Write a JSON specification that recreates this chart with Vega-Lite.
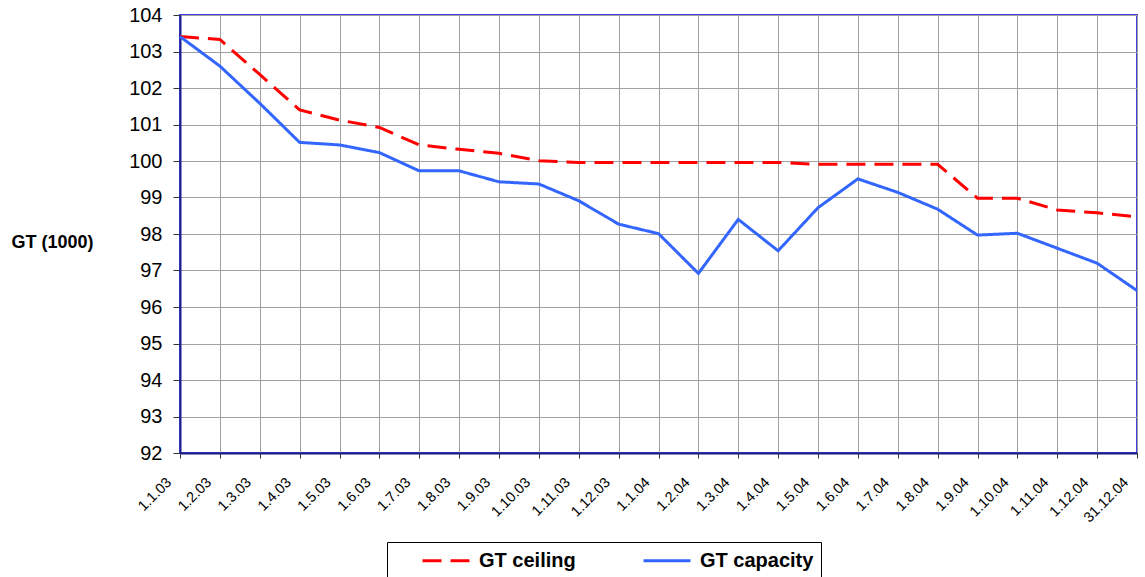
{
  "$schema": "https://vega.github.io/schema/vega-lite/v6.json",
  "width": 957,
  "height": 438,
  "autosize": {"type": "none"},
  "padding": {"left": 180, "top": 15, "right": 8, "bottom": 124},
  "background": "white",
  "config": {
    "font": "Liberation Sans",
    "view": {"stroke": "#4040e0", "strokeWidth": 2}
  },
  "data": {
    "values": [
      {"date": "1.1.03", "series": "GT ceiling", "gt": 103.41},
      {"date": "1.2.03", "series": "GT ceiling", "gt": 103.33},
      {"date": "1.3.03", "series": "GT ceiling", "gt": 102.37},
      {"date": "1.4.03", "series": "GT ceiling", "gt": 101.40},
      {"date": "1.5.03", "series": "GT ceiling", "gt": 101.12},
      {"date": "1.6.03", "series": "GT ceiling", "gt": 100.92},
      {"date": "1.7.03", "series": "GT ceiling", "gt": 100.44},
      {"date": "1.8.03", "series": "GT ceiling", "gt": 100.32},
      {"date": "1.9.03", "series": "GT ceiling", "gt": 100.21},
      {"date": "1.10.03", "series": "GT ceiling", "gt": 100.01},
      {"date": "1.11.03", "series": "GT ceiling", "gt": 99.96},
      {"date": "1.12.03", "series": "GT ceiling", "gt": 99.96},
      {"date": "1.1.04", "series": "GT ceiling", "gt": 99.96},
      {"date": "1.2.04", "series": "GT ceiling", "gt": 99.96},
      {"date": "1.3.04", "series": "GT ceiling", "gt": 99.96},
      {"date": "1.4.04", "series": "GT ceiling", "gt": 99.96},
      {"date": "1.5.04", "series": "GT ceiling", "gt": 99.91},
      {"date": "1.6.04", "series": "GT ceiling", "gt": 99.91},
      {"date": "1.7.04", "series": "GT ceiling", "gt": 99.91},
      {"date": "1.8.04", "series": "GT ceiling", "gt": 99.91},
      {"date": "1.9.04", "series": "GT ceiling", "gt": 98.98},
      {"date": "1.10.04", "series": "GT ceiling", "gt": 98.98},
      {"date": "1.11.04", "series": "GT ceiling", "gt": 98.66},
      {"date": "1.12.04", "series": "GT ceiling", "gt": 98.58},
      {"date": "31.12.04", "series": "GT ceiling", "gt": 98.47},
      {"date": "1.1.03", "series": "GT capacity", "gt": 103.41},
      {"date": "1.2.03", "series": "GT capacity", "gt": 102.60},
      {"date": "1.3.03", "series": "GT capacity", "gt": 101.58},
      {"date": "1.4.03", "series": "GT capacity", "gt": 100.51},
      {"date": "1.5.03", "series": "GT capacity", "gt": 100.44},
      {"date": "1.6.03", "series": "GT capacity", "gt": 100.23},
      {"date": "1.7.03", "series": "GT capacity", "gt": 99.73},
      {"date": "1.8.03", "series": "GT capacity", "gt": 99.73},
      {"date": "1.9.03", "series": "GT capacity", "gt": 99.43},
      {"date": "1.10.03", "series": "GT capacity", "gt": 99.37},
      {"date": "1.11.03", "series": "GT capacity", "gt": 98.91},
      {"date": "1.12.03", "series": "GT capacity", "gt": 98.27},
      {"date": "1.1.04", "series": "GT capacity", "gt": 98.01},
      {"date": "1.2.04", "series": "GT capacity", "gt": 96.92},
      {"date": "1.3.04", "series": "GT capacity", "gt": 98.40},
      {"date": "1.4.04", "series": "GT capacity", "gt": 97.54},
      {"date": "1.5.04", "series": "GT capacity", "gt": 98.72},
      {"date": "1.6.04", "series": "GT capacity", "gt": 99.51},
      {"date": "1.7.04", "series": "GT capacity", "gt": 99.14},
      {"date": "1.8.04", "series": "GT capacity", "gt": 98.68},
      {"date": "1.9.04", "series": "GT capacity", "gt": 97.97},
      {"date": "1.10.04", "series": "GT capacity", "gt": 98.02},
      {"date": "1.11.04", "series": "GT capacity", "gt": 97.61},
      {"date": "1.12.04", "series": "GT capacity", "gt": 97.20},
      {"date": "31.12.04", "series": "GT capacity", "gt": 96.45}
    ]
  },
  "mark": {"type": "line", "strokeWidth": 3, "strokeCap": "butt"},
  "encoding": {
    "x": {
      "field": "date",
      "type": "ordinal",
      "sort": null,
      "scale": {"type": "point", "padding": 0},
      "axis": {
        "title": null,
        "grid": true,
        "gridColor": "#a0a0a0",
        "gridWidth": 1,
        "domainColor": "#1a1a80",
        "domainWidth": 2,
        "tickColor": "#333333",
        "tickSize": 5,
        "labelAngle": -45,
        "labelAlign": "right",
        "labelBaseline": "middle",
        "labelOffset": -11,
        "labelPadding": 22,
        "labelFontSize": 14.5,
        "labelColor": "black",
        "labelOverlap": false,
        "labelBound": false
      }
    },
    "y": {
      "field": "gt",
      "type": "quantitative",
      "scale": {"domain": [92, 104], "nice": false, "zero": false},
      "axis": {
        "title": "GT (1000)",
        "titleAngle": 0,
        "titleAlign": "left",
        "titleBaseline": "middle",
        "titleX": -169,
        "titleY": 227,
        "titleFontSize": 18,
        "titleFontWeight": "bold",
        "titleColor": "black",
        "values": [92, 92.5, 93, 93.5, 94, 94.5, 95, 95.5, 96, 96.5, 97, 97.5, 98, 98.5, 99, 99.5, 100, 100.5, 101, 101.5, 102, 102.5, 103, 103.5, 104],
        "format": "d",
        "labelExpr": "datum.value % 1 === 0 ? datum.label : ''",
        "labelFontSize": 20,
        "labelColor": "black",
        "labelPadding": 11,
        "tickSize": 7,
        "tickColor": "#333333",
        "tickOpacity": {"condition": {"test": "datum.value % 1 !== 0", "value": 0}, "value": 1},
        "grid": true,
        "gridColor": "#a0a0a0",
        "gridWidth": 1,
        "domainColor": "#202090",
        "domainWidth": 2
      }
    },
    "color": {
      "field": "series",
      "type": "nominal",
      "scale": {"domain": ["GT ceiling", "GT capacity"], "range": ["#ff0000", "#3366ff"]},
      "legend": {
        "title": null,
        "orient": "none",
        "legendX": 207,
        "legendY": 527,
        "direction": "horizontal",
        "columns": 2,
        "symbolType": "M-1,0H3.7",
        "symbolSize": 400,
        "symbolStrokeWidth": 3,
        "symbolOffset": 27,
        "labelFontSize": 20,
        "labelFontWeight": "bold",
        "labelColor": "black",
        "labelOffset": 35,
        "columnPadding": 39,
        "padding": 7,
        "strokeColor": "black",
        "fillColor": "white"
      }
    },
    "strokeDash": {
      "field": "series",
      "type": "nominal",
      "scale": {"domain": ["GT ceiling", "GT capacity"], "range": [[19, 9], [1, 0]]},
      "legend": {
        "title": null,
        "orient": "none",
        "legendX": 207,
        "legendY": 527,
        "direction": "horizontal",
        "columns": 2,
        "symbolType": "M-1,0H3.7",
        "symbolSize": 400,
        "symbolStrokeWidth": 3,
        "symbolOffset": 27,
        "labelFontSize": 20,
        "labelFontWeight": "bold",
        "labelColor": "black",
        "labelOffset": 35,
        "columnPadding": 39,
        "padding": 7,
        "strokeColor": "black",
        "fillColor": "white"
      }
    }
  }
}
